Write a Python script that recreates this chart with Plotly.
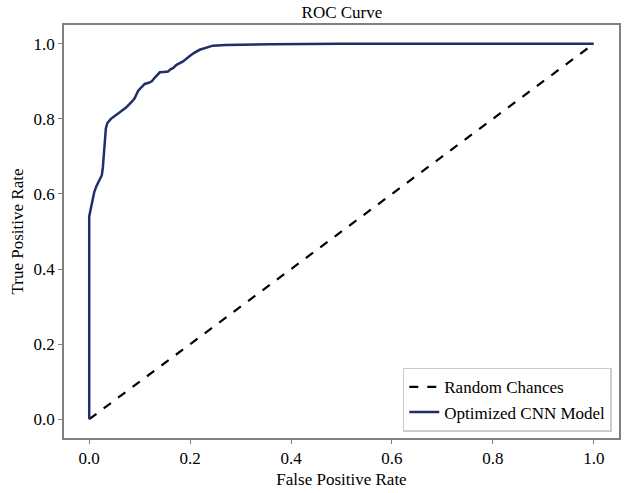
import plotly.graph_objects as go

# ROC curve points
fpr = [0.0, 0.0, 0.003, 0.006, 0.010, 0.014, 0.018, 0.022, 0.025, 0.027, 0.029, 0.031, 0.033,
       0.036, 0.043, 0.058, 0.073, 0.084, 0.090, 0.097, 0.104, 0.110, 0.118, 0.124, 0.130, 0.136,
       0.140, 0.148, 0.156, 0.161, 0.166, 0.173, 0.180, 0.186, 0.198, 0.208, 0.219, 0.233,
       0.245, 0.27, 0.30, 0.36, 0.5, 0.7, 1.0]
tpr = [0.0, 0.54, 0.56, 0.58, 0.605, 0.62, 0.63, 0.64, 0.65, 0.67, 0.70, 0.74, 0.775,
       0.789, 0.80, 0.815, 0.83, 0.845, 0.855, 0.875, 0.885, 0.893, 0.896, 0.90, 0.91, 0.92,
       0.924, 0.925, 0.926, 0.932, 0.935, 0.944, 0.948, 0.953, 0.966, 0.976, 0.984, 0.99,
       0.995, 0.997, 0.998, 0.999, 1.0, 1.0, 1.0]

chance_x = [0.0, 1.0]
chance_y = [0.0, 1.0]

tick_vals = [0.0, 0.2, 0.4, 0.6, 0.8, 1.0]
tick_text = ["0.0", "0.2", "0.4", "0.6", "0.8", "1.0"]

FONT = "Liberation Serif, Times New Roman, serif"

fig = go.Figure()
fig.add_trace(go.Scatter(x=chance_x, y=chance_y, mode="lines", name="Random Chances",
                         line=dict(color="black", width=2.2, dash="dash")))
fig.add_trace(go.Scatter(x=fpr, y=tpr, mode="lines", name="Optimized CNN Model",
                         line=dict(color="#222d6a", width=2.5)))

axis_common = dict(
    showgrid=False, zeroline=False, showline=True, linecolor="#808080", linewidth=1.5,
    mirror=True, ticks="outside", ticklen=4, tickcolor="#808080", tickwidth=1.2,
    tickvals=tick_vals, ticktext=tick_text,
    tickfont=dict(family=FONT, size=17, color="black"),
)

fig.update_layout(
    width=624, height=493,
    margin=dict(l=64, r=3, t=25, b=55),
    paper_bgcolor="white", plot_bgcolor="white",
    font=dict(family=FONT, color="black"),
    title=dict(text="ROC Curve", x=0.548, xanchor="center", y=0.975, yanchor="middle",
               font=dict(family=FONT, size=17, color="black")),
    xaxis=dict(range=[-0.05, 1.05],
               title=dict(text="False Positive Rate", font=dict(family=FONT, size=17), standoff=6),
               **axis_common),
    yaxis=dict(range=[-0.05, 1.05],
               title=dict(text="True Positive Rate", font=dict(family=FONT, size=17), standoff=6),
               **axis_common),
    legend=dict(x=0.987, y=0.015, xanchor="right", yanchor="bottom",
                bgcolor="white", bordercolor="#cccccc", borderwidth=1.5,
                font=dict(family=FONT, size=17, color="black"),
                tracegroupgap=0, itemwidth=30),
    showlegend=True,
)

fig.write_html("out.html")
